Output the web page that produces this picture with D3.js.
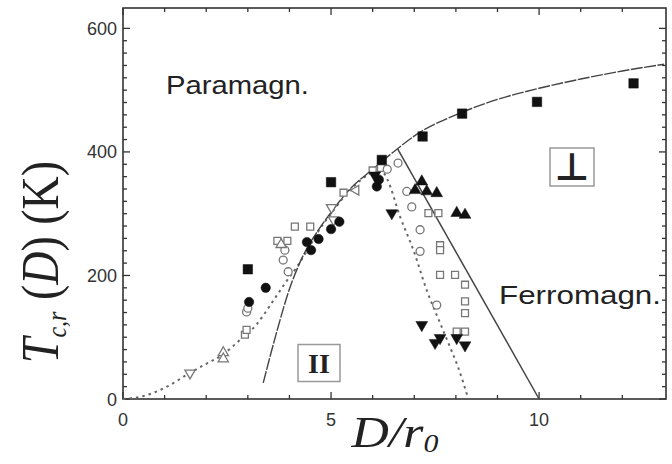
<!DOCTYPE html>
<html>
<head>
<meta charset="utf-8">
<script src="https://cdn.jsdelivr.net/npm/d3@7"></script>
<style>
  html, body { margin: 0; padding: 0; background: #fff; }
  svg { display: block; }
</style>
</head>
<body>
<svg id="chart" width="672" height="464"></svg>
<script>
// ---- phase boundary curves (D/r0, T in K) ----
const boundaryD = [3.37, 3.7, 4.0, 4.3, 4.7, 5.0, 5.4, 6.0, 6.5, 7.14, 8.0, 9.0, 10.0, 11.0, 12.0, 13.0];
const boundaryT = [26, 110, 178, 228, 274, 302, 336, 372, 400, 432, 460, 485, 503, 518, 531, 542];

const ferroLineD = [6.6, 10.0];
const ferroLineT = [405, 0];

const parallelD = [0, 0.5, 1.0, 1.6, 2.0, 2.4, 2.8, 3.2, 3.6, 3.9, 4.2, 4.5, 4.7, 5.0, 5.4, 5.9, 6.15, 6.35, 6.66, 6.98, 7.3, 7.62, 7.86, 8.05, 8.3];
const parallelT = [0, 5, 18, 42, 57, 72, 95, 120, 158, 188, 216, 249, 272, 300, 334, 364, 374, 356, 295, 241, 176, 123, 84, 52, 0];

// ---- measured points ----
const filledSquareD = [3.0, 5.0, 6.22, 7.2, 8.15, 9.95, 12.27];
const filledSquareT = [210, 351, 387, 425, 462, 481, 511];

const filledCircleD = [3.03, 3.43, 4.42, 4.52, 4.7, 5.0, 5.2, 6.1, 6.15];
const filledCircleT = [157, 180, 254, 241, 259, 275, 287, 344, 355];

const filledUpD = [7.02, 7.18, 7.3, 7.54, 8.02, 8.22];
const filledUpT = [338, 352, 336, 333, 301, 298];

const filledDownD = [6.05, 6.46, 7.18, 7.5, 7.62, 8.02, 8.22];
const filledDownT = [362, 301, 120, 91, 99, 99, 87];

const openCircleD = [2.97, 3.0, 3.85, 3.89, 3.97, 6.35, 6.61, 6.82, 6.94, 7.14, 7.14, 7.54];
const openCircleT = [141, 147, 225, 241, 206, 372, 382, 336, 311, 274, 239, 152];

const openSquareD = [2.93, 2.97, 3.71, 3.95, 4.13, 4.5, 5.3, 6.0, 6.2, 7.34, 7.58, 7.62, 7.62, 7.62, 7.98, 8.22, 8.22, 8.22, 8.02, 8.22];
const openSquareT = [104, 112, 256, 256, 279, 279, 334, 370, 374, 301, 301, 249, 241, 201, 201, 185, 158, 139, 109, 109];

const openUpD = [2.41, 2.41, 3.8];
const openUpT = [75, 65, 250];

const openDownD = [1.61, 5.01, 5.06];
const openDownT = [42, 310, 290];

const openLeftD = [5.6];
const openLeftT = [338];

// ---- axes ----
const xMajorTicks = [0, 5, 10];
const xMinorTicks = [1, 2, 3, 4, 6, 7, 8, 9, 11, 12];
const yMajorTicks = [0, 200, 400, 600];
const yMinorTicks = d3.range(20, 620, 20).filter(v => v % 200 !== 0);

const regionLabels = ["Paramagn.", "Ferromagn."];
const boxLabels = ["\u22A5", "II"];

// ---- drawing ----
const svg = d3.select("#chart");
const x = d3.scaleLinear().domain([0, 13.05]).range([123, 666]);
const y = d3.scaleLinear().domain([0, 633]).range([399, 8]);

const plot = svg.append("g");

// frame
plot.append("rect")
  .attr("x", x(0)).attr("y", y(633))
  .attr("width", x(13.05) - x(0)).attr("height", y(0) - y(633))
  .attr("fill", "none").attr("stroke", "#333").attr("stroke-width", 1.6);

// inward ticks on all four sides
function ticks(values, len) {
  values.forEach(v => {
    plot.append("line").attr("x1", x(v)).attr("x2", x(v)).attr("y1", y(0)).attr("y2", y(0) - len)
      .attr("stroke", "#333").attr("stroke-width", 1.3);
    plot.append("line").attr("x1", x(v)).attr("x2", x(v)).attr("y1", y(633)).attr("y2", y(633) + len)
      .attr("stroke", "#333").attr("stroke-width", 1.3);
  });
}
function yticks(values, len) {
  values.forEach(v => {
    plot.append("line").attr("x1", x(0)).attr("x2", x(0) + len).attr("y1", y(v)).attr("y2", y(v))
      .attr("stroke", "#333").attr("stroke-width", 1.3);
    plot.append("line").attr("x1", x(13.05)).attr("x2", x(13.05) - len).attr("y1", y(v)).attr("y2", y(v))
      .attr("stroke", "#333").attr("stroke-width", 1.3);
  });
}
ticks(xMajorTicks, 7); ticks(xMinorTicks, 4);
yticks(yMajorTicks, 7); yticks(yMinorTicks, 4);

// tick labels
svg.append("g").selectAll("text").data(xMajorTicks).join("text")
  .attr("x", d => x(d)).attr("y", 426)
  .attr("text-anchor", "middle")
  .attr("font-family", "Liberation Sans, Arial, sans-serif").attr("font-size", 18).attr("fill", "#333")
  .text(d => d);
svg.append("g").selectAll("text").data(yMajorTicks).join("text")
  .attr("x", 117).attr("y", d => y(d) + 6.5)
  .attr("text-anchor", "end")
  .attr("font-family", "Liberation Sans, Arial, sans-serif").attr("font-size", 18).attr("fill", "#333")
  .text(d => d);

// curves
const line = d3.line().x(d => x(d[0])).y(d => y(d[1])).curve(d3.curveMonotoneX);
plot.append("path").datum(d3.zip(parallelD, parallelT))
  .attr("d", line).attr("fill", "none").attr("stroke", "#666").attr("stroke-width", 2)
  .attr("stroke-dasharray", "2.5,4");
plot.append("path").datum(d3.zip(boundaryD, boundaryT))
  .attr("d", line).attr("fill", "none").attr("stroke", "#444").attr("stroke-width", 1.4)
  .attr("stroke-dasharray", "12,1.5");
plot.append("path").datum(d3.zip(ferroLineD, ferroLineT))
  .attr("d", d3.line().x(d => x(d[0])).y(d => y(d[1])))
  .attr("fill", "none").attr("stroke", "#444").attr("stroke-width", 1.5);

// markers
function marks(D, T, type, size, filled, angle = 0) {
  const sym = d3.symbol().type(type).size(size);
  plot.append("g").selectAll("path").data(d3.zip(D, T)).join("path")
    .attr("transform", d => `translate(${x(d[0])},${y(d[1])}) rotate(${angle})`)
    .attr("d", sym)
    .attr("fill", filled ? "#111" : "#fff")
    .attr("stroke", filled ? "#111" : "#777")
    .attr("stroke-width", filled ? 0.5 : 1.3);
}
marks(openSquareD, openSquareT, d3.symbolSquare, 48, false);
marks(openCircleD, openCircleT, d3.symbolCircle, 50, false);
marks(openUpD, openUpT, d3.symbolTriangle, 45, false);
marks(openDownD, openDownT, d3.symbolTriangle, 45, false, 180);
marks(openLeftD, openLeftT, d3.symbolTriangle, 40, false, -90);
marks(filledSquareD, filledSquareT, d3.symbolSquare, 90, true);
marks(filledCircleD, filledCircleT, d3.symbolCircle, 70, true);
marks(filledUpD, filledUpT, d3.symbolTriangle, 60, true);
marks(filledDownD, filledDownT, d3.symbolTriangle, 60, true, 180);

// region labels
svg.append("text").attr("x", 166).attr("y", 94)
  .attr("font-family", "Liberation Sans, Arial, sans-serif").attr("font-size", 25).attr("fill", "#222")
  .attr("textLength", 143).attr("lengthAdjust", "spacingAndGlyphs")
  .text(regionLabels[0]);
svg.append("text").attr("x", 499).attr("y", 304)
  .attr("font-family", "Liberation Sans, Arial, sans-serif").attr("font-size", 25).attr("fill", "#222")
  .attr("textLength", 162).attr("lengthAdjust", "spacingAndGlyphs")
  .text(regionLabels[1]);

// boxed orientation labels
function boxed(cx, cy, w, h, label, font, fs, dy, weight) {
  svg.append("rect").attr("x", cx - w / 2).attr("y", cy - h / 2).attr("width", w).attr("height", h)
    .attr("fill", "#fff").attr("stroke", "#999").attr("stroke-width", 1.5);
  svg.append("text").attr("x", cx).attr("y", cy + dy).attr("text-anchor", "middle")
    .attr("font-family", font).attr("font-size", fs).attr("font-weight", weight)
    .attr("fill", "#222").text(label);
}
boxed(572, 167, 44, 38, boxLabels[0], "DejaVu Sans, sans-serif", 38, 13, "bold");
boxed(319, 363, 42, 37, boxLabels[1], "Liberation Serif, serif", 28, 10, "bold");

// axis titles
const yTitle = svg.append("text")
  .attr("transform", "translate(58,262) rotate(-90) scale(1,1.15)")
  .attr("text-anchor", "middle")
  .attr("font-family", "Liberation Serif, Times New Roman, serif").attr("font-size", 46).attr("fill", "#222");
yTitle.append("tspan").attr("font-style", "italic").text("T");
yTitle.append("tspan").attr("font-style", "italic").attr("font-size", 24).attr("dy", 7).text("c,r");
yTitle.append("tspan").attr("dy", -7).text(" (");
yTitle.append("tspan").attr("font-style", "italic").text("D");
yTitle.append("tspan").text(") (K)");

const xTitle = svg.append("text")
  .attr("transform", "translate(395,447) scale(1.15,1)")
  .attr("text-anchor", "middle")
  .attr("font-family", "Liberation Serif, Times New Roman, serif").attr("font-size", 45).attr("fill", "#222")
  .attr("font-style", "italic");
xTitle.append("tspan").text("D/r");
xTitle.append("tspan").attr("font-size", 26).attr("dy", 5).text("0");
</script>
</body>
</html>
